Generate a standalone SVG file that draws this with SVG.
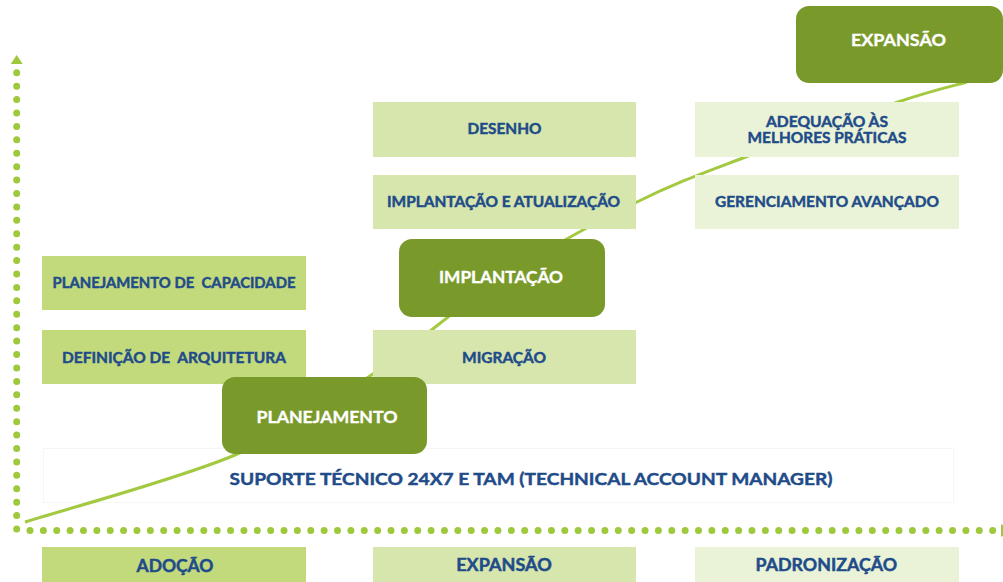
<svg xmlns="http://www.w3.org/2000/svg" width="1003" height="582" viewBox="0 0 1003 582">
<style>
.c1{fill:#c3da7c}
.c2{fill:#d6e6ad}
.c3{fill:#eaf3d7}
.dk{fill:#799a2b}
.t{font-family:Lato,"Open Sans","Liberation Sans",sans-serif;font-weight:700;fill:#1f4c89;stroke:#1f4c89;stroke-width:0.45;font-size:15px;text-anchor:middle}
.w{font-family:Lato,"Open Sans","Liberation Sans",sans-serif;font-weight:700;fill:#ffffff;stroke:#ffffff;stroke-width:0.35;font-size:17.5px;text-anchor:middle}
.b{font-size:16.5px}
.dots{fill:none;stroke:#9fc93c;stroke-width:7;stroke-linecap:round}
.curve{fill:none;stroke:#a3c940;stroke-width:3}
</style>
<rect width="1003" height="582" fill="#ffffff"/>
<rect x="43.5" y="448.5" width="910" height="54" fill="#ffffff" stroke="#f6f6f6" stroke-width="1"/>
<g id="axes">
<path class="dots" d="M16.7,529 V72.5" stroke-dasharray="0 13.42"/>
<path class="dots" d="M30,530.5 H995" stroke-dasharray="0 13.37"/>
<polygon points="16.7,55 22.7,64 10.7,64" fill="#9fc93c"/>
<polygon points="1001,524 1012,530.5 1001,537" fill="#9fc93c"/>
</g>
<g id="connectors">
<path class="curve" d="M25,522 C60,510.8 177.5,479.3 235,455 C292.5,430.7 325.8,405.3 370,376 C414.2,346.7 455.5,308 500,279 C544.5,250 595.7,222.5 637,202 C678.3,181.5 704.5,172.7 748,156 C791.5,139.3 861.5,114.3 898,102 C934.5,89.7 955.5,85.3 967,82"/>
</g>
<g id="suporte">
<text class="t" x="531" y="485" style="font-size:17px" textLength="603" lengthAdjust="spacingAndGlyphs">SUPORTE TÉCNICO 24X7 E TAM (TECHNICAL ACCOUNT MANAGER)</text>
</g>
<g id="planejamento-capacidade">
<rect class="c1" x="42" y="256" width="264" height="54"/>
<text class="t" x="174" y="288.3" textLength="243" lengthAdjust="spacingAndGlyphs" xml:space="preserve">PLANEJAMENTO DE  CAPACIDADE</text>
</g>
<g id="definicao-arquitetura">
<rect class="c1" x="42" y="330" width="264" height="54"/>
<text class="t" x="174" y="363.3" textLength="224" lengthAdjust="spacingAndGlyphs" xml:space="preserve">DEFINIÇÃO DE  ARQUITETURA</text>
</g>
<g id="desenho">
<rect class="c2" x="373" y="102" width="263" height="55"/>
<text class="t" x="504.5" y="134.3" textLength="74" lengthAdjust="spacingAndGlyphs">DESENHO</text>
</g>
<g id="implantacao-atualizacao">
<rect class="c2" x="373" y="175" width="263" height="54"/>
<text class="t" x="503.5" y="207.3" textLength="233" lengthAdjust="spacingAndGlyphs">IMPLANTAÇÃO E ATUALIZAÇÃO</text>
</g>
<g id="migracao">
<rect class="c2" x="373" y="330" width="263" height="54"/>
<text class="t" x="504" y="363.3" textLength="84" lengthAdjust="spacingAndGlyphs">MIGRAÇÃO</text>
</g>
<g id="adequacao">
<rect class="c3" x="695" y="102" width="264" height="55"/>
<text class="t" x="827" y="126.7" textLength="122" lengthAdjust="spacingAndGlyphs">ADEQUAÇÃO ÀS</text>
<text class="t" x="827" y="142.7" textLength="159" lengthAdjust="spacingAndGlyphs">MELHORES PRÁTICAS</text>
</g>
<g id="gerenciamento">
<rect class="c3" x="695" y="175" width="264" height="54"/>
<text class="t" x="827" y="207.3" textLength="224" lengthAdjust="spacingAndGlyphs">GERENCIAMENTO AVANÇADO</text>
</g>
<g id="planejamento">
<rect class="dk" x="222" y="377" width="205" height="77" rx="13"/>
<text class="w" x="327" y="423.3" textLength="141" lengthAdjust="spacingAndGlyphs">PLANEJAMENTO</text>
</g>
<g id="implantacao">
<rect class="dk" x="399" y="239" width="206" height="78" rx="13"/>
<text class="w" x="501" y="283.3" textLength="124" lengthAdjust="spacingAndGlyphs">IMPLANTAÇÃO</text>
</g>
<g id="expansao-top">
<rect class="dk" x="796" y="6" width="207" height="77" rx="13"/>
<text class="w" x="898.5" y="45.7" textLength="95" lengthAdjust="spacingAndGlyphs">EXPANSÃO</text>
</g>
<g id="adocao">
<rect class="c1" x="42" y="547" width="264" height="40"/>
<text class="t b" x="175" y="571.5" textLength="77" lengthAdjust="spacingAndGlyphs">ADOÇÃO</text>
</g>
<g id="expansao">
<rect class="c2" x="373" y="547" width="263" height="40"/>
<text class="t b" x="504" y="571" textLength="95.5" lengthAdjust="spacingAndGlyphs">EXPANSÃO</text>
</g>
<g id="padronizacao">
<rect class="c3" x="695" y="547" width="264" height="40"/>
<text class="t b" x="826.3" y="571" textLength="141.5" lengthAdjust="spacingAndGlyphs">PADRONIZAÇÃO</text>
</g>
</svg>
